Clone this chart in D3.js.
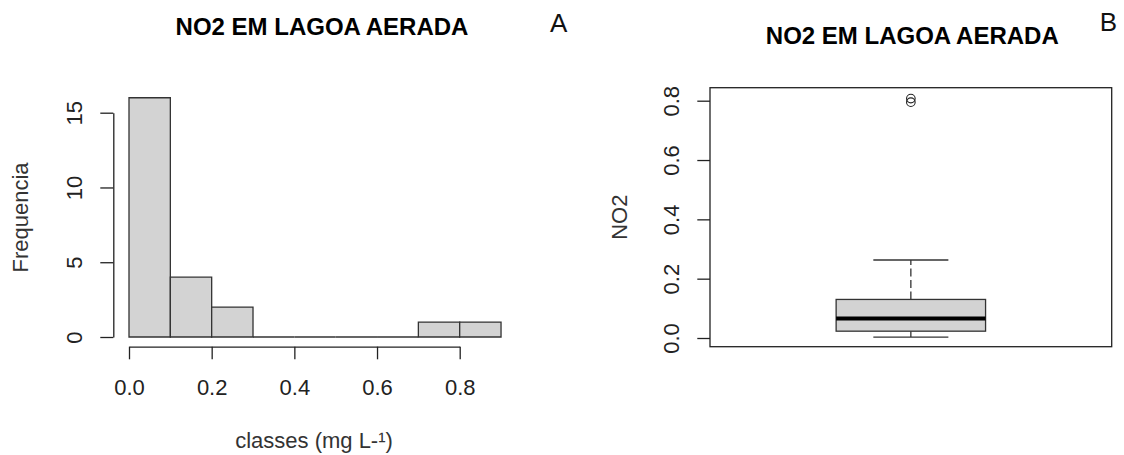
<!DOCTYPE html>
<html>
<head>
<meta charset="utf-8">
<script src="https://cdn.jsdelivr.net/npm/d3@7"></script>
<style>
  html, body { margin: 0; padding: 0; background: #fff; }
  svg { display: block; font-family: "Liberation Sans", Arial, sans-serif; }
  .axis path, .axis line { stroke: #222; stroke-width: 1.3; }
  .axis text { fill: #222; font-size: 22px; font-family: "Liberation Sans", Arial, sans-serif; }
</style>
</head>
<body>
<div id="chart"></div>
<script>
// histogram data (classes of NO2, mg/L)
var histBreaks = [0, 0.1, 0.2, 0.3, 0.4, 0.5, 0.6, 0.7, 0.8, 0.9];
var histCounts = [16, 4, 2, 0, 0, 0, 0, 1, 1];
var histXTicks = [0, 0.2, 0.4, 0.6, 0.8];
var histYTicks = [0, 5, 10, 15];

// boxplot data
var boxCategories = ["NO2"];
var boxStats = [0.003, 0.023, 0.066, 0.130, 0.263]; // low whisker, q1, median, q3, high whisker
var boxOutliers = [0.795, 0.807];
var boxYTicks = [0, 0.2, 0.4, 0.6, 0.8];

var titleText = "NO2 EM LAGOA AERADA";

var width = 1124, height = 455;
var svg = d3.select("#chart").append("svg")
    .attr("width", width)
    .attr("height", height);

// ---------- A: histogram ----------
var hx = d3.scaleLinear().domain([0, 0.8]).range([129, 459.7]);
var hy = d3.scaleLinear().domain([0, 15]).range([337, 112.7]);

var bins = histCounts.map(function (c, i) {
    return { x0: histBreaks[i], x1: histBreaks[i + 1], n: c };
});

svg.append("g").selectAll("path").data(bins).enter().append("path")
    .attr("d", function (d) {
        return "M" + hx(d.x0) + "," + hy(0) + "V" + hy(d.n) + "H" + hx(d.x1) + "V" + hy(0) + "Z";
    })
    .attr("fill", "#d3d3d3")
    .attr("stroke", "#333")
    .attr("stroke-width", 1.3);

var hxAxis = svg.append("g").attr("class", "axis")
    .attr("transform", "translate(0,346.7)")
    .call(d3.axisBottom(hx).tickValues(histXTicks).tickSize(12.6).tickSizeOuter(0)
        .tickFormat(d3.format(".1f")));
hxAxis.selectAll("text").attr("y", 48.3).attr("dy", null);

var hyAxis = svg.append("g").attr("class", "axis")
    .attr("transform", "translate(113.3,0)")
    .call(d3.axisLeft(hy).tickValues(histYTicks).tickSize(13).tickSizeOuter(0));
hyAxis.selectAll("text")
    .attr("x", null).attr("dy", null)
    .attr("text-anchor", "middle")
    .attr("transform", "translate(-31.6,0) rotate(-90)");

svg.append("text")
    .attr("x", 322).attr("y", 35)
    .attr("text-anchor", "middle")
    .attr("font-size", 24).attr("font-weight", "bold").attr("fill", "#000")
    .text(titleText);

svg.append("text")
    .attr("x", 314).attr("y", 448)
    .attr("text-anchor", "middle")
    .attr("font-size", 22).attr("fill", "#333")
    .text("classes (mg L-\u00b9)");

svg.append("text")
    .attr("transform", "translate(28.3,217.5) rotate(-90)")
    .attr("text-anchor", "middle")
    .attr("font-size", 22).attr("fill", "#333")
    .text("Frequencia");

svg.append("text")
    .attr("x", 558.7).attr("y", 31.7)
    .attr("text-anchor", "middle")
    .attr("font-size", 26).attr("fill", "#111")
    .text("A");

// ---------- B: boxplot ----------
var bx = d3.scaleLinear().domain([0.5, 1.5]).range([710, 1111.7]);
var by = d3.scaleLinear().domain([0, 0.8]).range([338, 100.7]);
var boxHalf = 0.186, capHalf = 0.0934;

var boxes = boxCategories.map(function (c, i) {
    return { name: c, pos: i + 1, lo: boxStats[0], q1: boxStats[1], med: boxStats[2], q3: boxStats[3], hi: boxStats[4], out: boxOutliers };
});

var bg = svg.append("g").selectAll("g").data(boxes).enter().append("g");

// whiskers (dashed)
bg.append("line")
    .attr("x1", function (d) { return bx(d.pos); }).attr("x2", function (d) { return bx(d.pos); })
    .attr("y1", function (d) { return by(d.q3); }).attr("y2", function (d) { return by(d.hi); })
    .attr("stroke", "#333").attr("stroke-width", 1.3).attr("stroke-dasharray", "8,3.5");
bg.append("line")
    .attr("x1", function (d) { return bx(d.pos); }).attr("x2", function (d) { return bx(d.pos); })
    .attr("y1", function (d) { return by(d.q1); }).attr("y2", function (d) { return by(d.lo); })
    .attr("stroke", "#333").attr("stroke-width", 1.3).attr("stroke-dasharray", "8,3.5");
// staples
["hi", "lo"].forEach(function (k) {
    bg.append("line")
        .attr("x1", function (d) { return bx(d.pos - capHalf); }).attr("x2", function (d) { return bx(d.pos + capHalf); })
        .attr("y1", function (d) { return by(d[k]); }).attr("y2", function (d) { return by(d[k]); })
        .attr("stroke", "#333").attr("stroke-width", 1.3);
});
// box
bg.append("rect")
    .attr("x", function (d) { return bx(d.pos - boxHalf); })
    .attr("width", function (d) { return bx(d.pos + boxHalf) - bx(d.pos - boxHalf); })
    .attr("y", function (d) { return by(d.q3); })
    .attr("height", function (d) { return by(d.q1) - by(d.q3); })
    .attr("fill", "#d3d3d3").attr("stroke", "#333").attr("stroke-width", 1.3);
// median
bg.append("line")
    .attr("x1", function (d) { return bx(d.pos - boxHalf); }).attr("x2", function (d) { return bx(d.pos + boxHalf); })
    .attr("y1", function (d) { return by(d.med); }).attr("y2", function (d) { return by(d.med); })
    .attr("stroke", "#000").attr("stroke-width", 4);
// outliers
bg.selectAll("circle").data(function (d) { return d.out.map(function (v) { return { pos: d.pos, v: v }; }); })
    .enter().append("circle")
    .attr("cx", function (d) { return bx(d.pos); })
    .attr("cy", function (d) { return by(d.v); })
    .attr("r", 4.3)
    .attr("fill", "none").attr("stroke", "#222").attr("stroke-width", 1.1);

// frame
svg.append("rect")
    .attr("x", 710).attr("y", 87.7)
    .attr("width", 1111.7 - 710).attr("height", 346.7 - 87.7)
    .attr("fill", "none").attr("stroke", "#222").attr("stroke-width", 1.3);

var byAxis = svg.append("g").attr("class", "axis")
    .attr("transform", "translate(710,0)")
    .call(d3.axisLeft(by).tickValues(boxYTicks).tickSize(12.7).tickSizeOuter(0)
        .tickFormat(d3.format(".1f")));
byAxis.select(".domain").remove();
byAxis.selectAll("text")
    .attr("x", null).attr("dy", null)
    .attr("text-anchor", "middle")
    .attr("transform", "translate(-30.7,0) rotate(-90)");

svg.append("text")
    .attr("x", 912.3).attr("y", 44)
    .attr("text-anchor", "middle")
    .attr("font-size", 24).attr("font-weight", "bold").attr("fill", "#000")
    .text(titleText);

svg.append("text")
    .attr("transform", "translate(626.5,217.2) rotate(-90)")
    .attr("text-anchor", "middle")
    .attr("font-size", 22).attr("fill", "#333")
    .text("NO2");

svg.append("text")
    .attr("x", 1108.3).attr("y", 30.7)
    .attr("text-anchor", "middle")
    .attr("font-size", 26).attr("fill", "#111")
    .text("B");
</script>
</body>
</html>
